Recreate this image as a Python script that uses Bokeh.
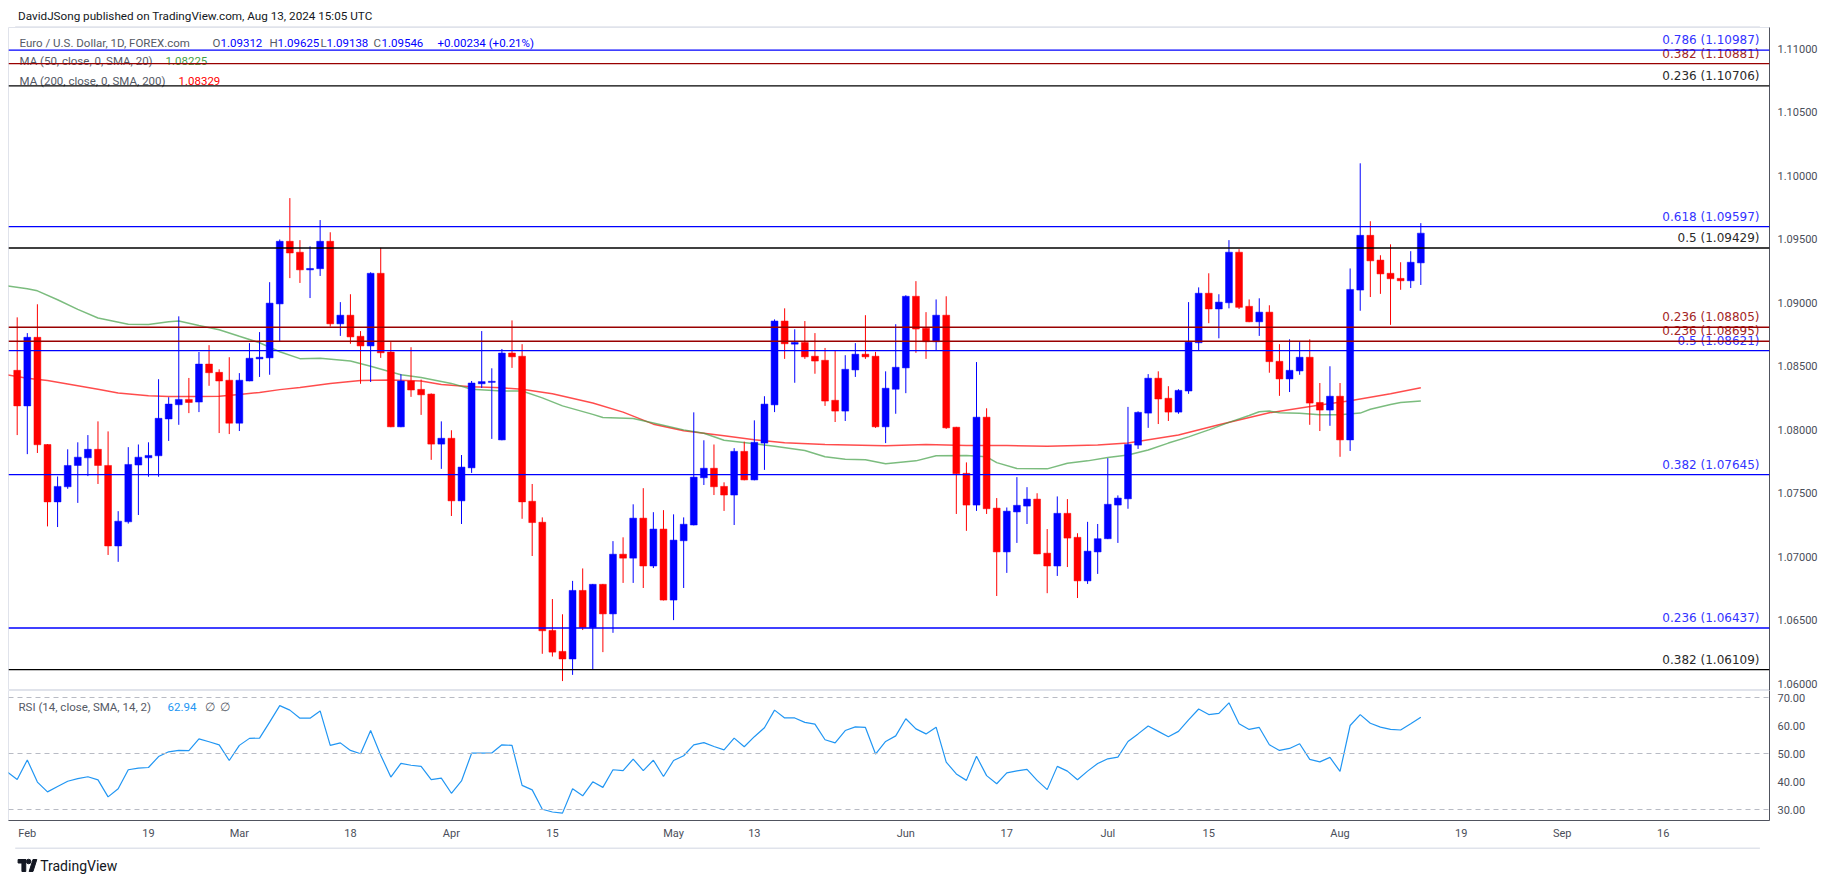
import pandas as pd
from bokeh.plotting import figure
from bokeh.models import Range1d, FixedTicker, NumeralTickFormatter, Label, Span, ColumnDataSource
from bokeh.layouts import column
from bokeh.core.properties import value
from bokeh.embed import file_html
from bokeh.resources import INLINE

# ---------------- data (EUR/USD daily) ----------------
first_bar = "2024-01-31"
opens = [1.08466, 1.08186, 1.08726, 1.07882, 1.07430, 1.07549, 1.07717, 1.07777, 1.07844, 1.07717,
         1.07083, 1.07273, 1.07720, 1.07777, 1.07793, 1.08083, 1.08195, 1.08237, 1.08216, 1.08515,
         1.08450, 1.08388, 1.08050, 1.08382, 1.08556, 1.08564, 1.08989, 1.09482, 1.09396, 1.09257,
         1.09266, 1.09482, 1.08832, 1.08900, 1.08734, 1.08658, 1.09230, 1.08610, 1.08021, 1.08382,
         1.08316, 1.08279, 1.07885, 1.07931, 1.07438, 1.07698, 1.08360, 1.08371, 1.07918, 1.08602,
         1.08577, 1.07435, 1.07270, 1.06418, 1.06253, 1.06193, 1.06733, 1.06440, 1.06781, 1.06548,
         1.07018, 1.06987, 1.07302, 1.06925, 1.07216, 1.06657, 1.07124, 1.07248, 1.07620, 1.07695,
         1.07552, 1.07484, 1.07828, 1.07603, 1.07893, 1.08194, 1.08854, 1.08672, 1.08685, 1.08577,
         1.08545, 1.08230, 1.08145, 1.08469, 1.08593, 1.08577, 1.08021, 1.08317, 1.08485, 1.09049,
         1.08797, 1.08691, 1.08900, 1.08018, 1.07655, 1.07405, 1.08097, 1.07381, 1.07036, 1.07351,
         1.07397, 1.07452, 1.07026, 1.06925, 1.07340, 1.07151, 1.06808, 1.07036, 1.07140, 1.07405,
         1.07454, 1.07877, 1.08129, 1.08404, 1.08246, 1.08137, 1.08303, 1.08683, 1.09073, 1.08949,
         1.08998, 1.09396, 1.08970, 1.08848, 1.08924, 1.08537, 1.08398, 1.08461, 1.08569, 1.08213,
         1.08153, 1.08262, 1.07918, 1.09098, 1.09529, 1.09334, 1.09230, 1.09190, 1.09171, 1.09312]
highs = [1.08883, 1.08759, 1.08986, 1.07885, 1.07630, 1.07844, 1.07899, 1.07956, 1.08064, 1.07985,
         1.07357, 1.07861, 1.07882, 1.07899, 1.08396, 1.08254, 1.08891, 1.08406, 1.08610, 1.08664,
         1.08474, 1.08569, 1.08444, 1.08680, 1.08767, 1.09160, 1.09496, 1.09822, 1.09491, 1.09442,
         1.09649, 1.09553, 1.09003, 1.09065, 1.08775, 1.09238, 1.09431, 1.08688, 1.08436, 1.08648,
         1.08393, 1.08284, 1.08064, 1.07994, 1.07799, 1.08382, 1.08775, 1.08482, 1.08634, 1.08859,
         1.08672, 1.07571, 1.07308, 1.06665, 1.06545, 1.06808, 1.06906, 1.06784, 1.06784, 1.07121,
         1.07151, 1.07411, 1.07538, 1.07349, 1.07365, 1.07332, 1.07308, 1.08135, 1.07915, 1.07882,
         1.07584, 1.07853, 1.07904, 1.08072, 1.08262, 1.08867, 1.08954, 1.08789, 1.08854, 1.08759,
         1.08642, 1.08620, 1.08585, 1.08680, 1.08900, 1.08612, 1.08458, 1.08829, 1.09057, 1.09168,
         1.08924, 1.09024, 1.09049, 1.08021, 1.07741, 1.08531, 1.08167, 1.07460, 1.07386, 1.07625,
         1.07546, 1.07498, 1.07216, 1.07473, 1.07452, 1.07183, 1.07273, 1.07256, 1.07774, 1.07481,
         1.08178, 1.08143, 1.08436, 1.08458, 1.08341, 1.08317, 1.09003, 1.09119, 1.09230, 1.09065,
         1.09491, 1.09420, 1.09024, 1.09033, 1.08978, 1.08672, 1.08710, 1.08688, 1.08710, 1.08366,
         1.08498, 1.08366, 1.09268, 1.10096, 1.09640, 1.09372, 1.09458, 1.09317, 1.09404, 1.09625]
lows = [1.07956, 1.07806, 1.07815, 1.07237, 1.07232, 1.07533, 1.07422, 1.07633, 1.07571, 1.07012,
        1.06958, 1.07259, 1.07327, 1.07628, 1.07628, 1.07910, 1.08037, 1.08129, 1.08137, 1.08344,
        1.07972, 1.07964, 1.07988, 1.08380, 1.08414, 1.08431, 1.08694, 1.09192, 1.09154, 1.09035,
        1.09209, 1.08810, 1.08737, 1.08675, 1.08360, 1.08374, 1.08564, 1.08018, 1.08018, 1.08257,
        1.08115, 1.07761, 1.07690, 1.07319, 1.07256, 1.07658, 1.08327, 1.07926, 1.07915, 1.08485,
        1.07297, 1.07004, 1.06234, 1.06212, 1.06019, 1.06068, 1.06421, 1.06112, 1.06247, 1.06399,
        1.06792, 1.06792, 1.06752, 1.06909, 1.06654, 1.06499, 1.06752, 1.07245, 1.07563, 1.07484,
        1.07359, 1.07248, 1.07600, 1.07600, 1.07682, 1.08137, 1.08556, 1.08368, 1.08556, 1.08439,
        1.08186, 1.08059, 1.08067, 1.08414, 1.08556, 1.08013, 1.07893, 1.08124, 1.08286, 1.08604,
        1.08556, 1.08620, 1.08005, 1.07335, 1.07202, 1.07359, 1.07335, 1.06689, 1.06871, 1.07107,
        1.07256, 1.07018, 1.06711, 1.06847, 1.06917, 1.06673, 1.06784, 1.06863, 1.07137, 1.07107,
        1.07376, 1.07847, 1.08013, 1.08043, 1.08067, 1.08124, 1.08281, 1.08620, 1.08837, 1.08718,
        1.08954, 1.08949, 1.08845, 1.08737, 1.08447, 1.08265, 1.08295, 1.08431, 1.08037, 1.07988,
        1.08029, 1.07785, 1.07831, 1.08935, 1.09043, 1.09068, 1.08824, 1.09100, 1.09114, 1.09138]
closes = [1.08186, 1.08726, 1.07880, 1.07430, 1.07552, 1.07717, 1.07782, 1.07844, 1.07717, 1.07083,
          1.07278, 1.07725, 1.07782, 1.07796, 1.08088, 1.08200, 1.08237, 1.08213, 1.08515, 1.08447,
          1.08382, 1.08050, 1.08388, 1.08561, 1.08569, 1.08995, 1.09482, 1.09390, 1.09257, 1.09268,
          1.09482, 1.08832, 1.08900, 1.08729, 1.08658, 1.09230, 1.08604, 1.08021, 1.08382, 1.08311,
          1.08273, 1.07885, 1.07931, 1.07438, 1.07704, 1.08366, 1.08377, 1.08379, 1.08602, 1.08572,
          1.07430, 1.07267, 1.06415, 1.06247, 1.06193, 1.06733, 1.06440, 1.06781, 1.06548, 1.07018,
          1.06987, 1.07302, 1.06925, 1.07216, 1.06657, 1.07129, 1.07254, 1.07625, 1.07695, 1.07549,
          1.07484, 1.07828, 1.07603, 1.07899, 1.08200, 1.08854, 1.08675, 1.08685, 1.08572, 1.08539,
          1.08224, 1.08145, 1.08474, 1.08593, 1.08572, 1.08021, 1.08325, 1.08490, 1.09049, 1.08791,
          1.08691, 1.08900, 1.08013, 1.07652, 1.07405, 1.08097, 1.07376, 1.07036, 1.07357, 1.07403,
          1.07452, 1.07020, 1.06925, 1.07340, 1.07145, 1.06808, 1.07042, 1.07140, 1.07411, 1.07460,
          1.07882, 1.08135, 1.08404, 1.08240, 1.08137, 1.08308, 1.08688, 1.09073, 1.08949, 1.09003,
          1.09396, 1.08962, 1.08848, 1.08924, 1.08534, 1.08398, 1.08466, 1.08569, 1.08208, 1.08153,
          1.08262, 1.07918, 1.09103, 1.09529, 1.09328, 1.09225, 1.09187, 1.09171, 1.09317, 1.09546]
last_change, last_change_pct = 0.00234, 0.21

# RSI(14) - first value belongs to 2024-01-30
rsi_first = "2024-01-30"
rsi = [43.5, 40.7, 47.7, 39.8, 36.3, 38.2, 40.1, 41.0, 41.7, 40.6, 34.5, 37.4, 44.2, 44.8, 45.0,
       48.9, 50.6, 51.1, 51.0, 55.2, 54.2, 53.1, 47.5, 52.9, 55.4, 55.5, 61.2, 67.1, 65.5, 62.6,
       62.6, 65.2, 52.9, 53.8, 51.1, 49.9, 58.2, 49.4, 41.6, 46.5, 45.8, 45.4, 40.7, 41.2, 35.8,
       40.2, 50.1, 50.1, 50.2, 53.1, 52.9, 38.6, 37.0, 30.1, 29.1, 28.7, 37.4, 34.9, 39.9, 37.9,
       44.2, 43.9, 48.0, 43.9, 47.6, 41.8, 47.5, 49.2, 53.1, 53.9, 52.5, 51.3, 55.5, 52.4, 56.0,
       59.2, 65.5, 62.7, 62.7, 61.1, 60.5, 54.9, 53.8, 58.2, 59.5, 59.3, 49.8, 54.3, 56.3, 62.4,
       58.8, 57.0, 59.4, 46.9, 42.7, 40.4, 49.0, 42.1, 39.2, 43.1, 43.8, 44.3, 40.4, 37.1, 45.4,
       43.7, 40.6, 43.7, 46.4, 48.1, 48.7, 54.3, 57.0, 59.8, 57.9, 56.0, 57.9, 62.0, 65.9, 63.9,
       64.3, 68.1, 60.6, 58.6, 59.3, 53.1, 51.1, 51.8, 53.5, 47.9, 47.0, 48.6, 43.6, 60.0, 63.9,
       60.8, 59.4, 58.6, 58.4, 60.6, 62.94]

# Moving averages, sampled along the chart (bar number counted from first_bar)
ma50_bar = [-1, 1, 2, 4, 6, 8, 11, 13, 15, 16, 18, 20, 22, 24, 26, 28, 30, 33, 35, 38, 40, 43, 45,
            48, 50, 52, 54, 57, 58, 61, 63, 66, 68, 70, 73, 75, 78, 80, 82, 84, 86, 89, 91, 94, 96,
            97, 99, 102, 104, 106, 108, 110, 112, 114, 116, 118, 120, 122, 123, 124, 125, 127, 129,
            131, 133, 134, 136, 137, 139]
ma50 = [1.09130, 1.09108, 1.09092, 1.09022, 1.08946, 1.08878, 1.08829, 1.08826, 1.08848, 1.08854,
        1.08819, 1.08786, 1.08734, 1.08683, 1.08612, 1.08558, 1.08561, 1.08539, 1.08498, 1.08431,
        1.08409, 1.08363, 1.08317, 1.08303, 1.08303, 1.08249, 1.08186, 1.08119, 1.08094, 1.08086,
        1.08051, 1.07997, 1.07970, 1.07915, 1.07888, 1.07869, 1.07834, 1.07785, 1.07766, 1.07761,
        1.07731, 1.07753, 1.07793, 1.07796, 1.07785, 1.07739, 1.07693, 1.07690, 1.07734, 1.07753,
        1.07780, 1.07799, 1.07839, 1.07893, 1.07942, 1.07997, 1.08056, 1.08110, 1.08140, 1.08145,
        1.08132, 1.08127, 1.08116, 1.08116, 1.08129, 1.08159, 1.08197, 1.08212, 1.08225]
ma200_bar = [-1, 1, 3, 5, 8, 10, 13, 15, 18, 20, 22, 24, 26, 28, 31, 34, 37, 40, 42, 45, 48, 50, 53,
             57, 60, 63, 66, 70, 73, 76, 80, 86, 90, 94, 98, 102, 107, 110, 115, 119, 124, 129, 132,
             136, 139]
ma200 = [1.08430, 1.08404, 1.08385, 1.08358, 1.08317, 1.08287, 1.08265, 1.08260, 1.08260, 1.08262,
         1.08276, 1.08292, 1.08314, 1.08330, 1.08363, 1.08385, 1.08390, 1.08382, 1.08355, 1.08336,
         1.08328, 1.08317, 1.08281, 1.08208, 1.08137, 1.08042, 1.07991, 1.07950, 1.07920, 1.07896,
         1.07882, 1.07872, 1.07882, 1.07874, 1.07874, 1.07869, 1.07877, 1.07893, 1.07956, 1.08037,
         1.08132, 1.08192, 1.08227, 1.08281, 1.08329]

# Fibonacci retracement levels
fib_ratio = ["0.786", "0.382", "0.236", "0.618", "0.5", "0.236", "0.236", "0.5", "0.382", "0.236", "0.382"]
fib_level = [1.10987, 1.10881, 1.10706, 1.09597, 1.09429, 1.08805, 1.08695, 1.08621, 1.07645, 1.06437, 1.06109]
fib_kind = ["blue", "red", "black", "blue", "black", "red", "red", "blue", "blue", "blue", "black"]

tick_dates = ["2024-02-01", "2024-02-19", "2024-03-01", "2024-03-18", "2024-04-01", "2024-04-15",
              "2024-05-01", "2024-05-13", "2024-06-03", "2024-06-17", "2024-07-01", "2024-07-15",
              "2024-08-01", "2024-08-19", "2024-09-02", "2024-09-16"]
tick_labels = ["Feb", "19", "Mar", "18", "Apr", "15", "May", "13", "Jun", "17", "Jul", "15",
               "Aug", "19", "Sep", "16"]
price_ticks = [1.06, 1.065, 1.07, 1.075, 1.08, 1.085, 1.09, 1.095, 1.10, 1.105, 1.11]
rsi_ticks = [30, 40, 50, 60, 70]
rsi_bands = [70, 50, 30]

header = "DavidJSong published on TradingView.com, Aug 13, 2024 15:05 UTC"
symbol = "Euro / U.S. Dollar, 1D, FOREX.com"
ma50_name, ma200_name = "MA (50, close, 0, SMA, 20)", "MA (200, close, 0, SMA, 200)"
rsi_name = "RSI (14, close, SMA, 14, 2)"

# ---------------- layout constants (page pixels) ----------------
W, H_HEAD, H_PRICE, H_RSI, H_FOOT = 1835, 27, 663, 157, 36
FRAME_L, FRAME_R = 8, 1769
BAR0_PX, BAR_PX = 16.7, 10.098          # page x of first bar, pixels per bar
PRICE_TOP = H_HEAD                       # page y of price frame top
def xi(px):
    return (px - BAR0_PX) / BAR_PX
def price_at(py):
    return 1.11 - (py - 48) / 12700.0
def rsi_at(py):
    return 70 - (py - 697) / 2.8

UP, DOWN = "#0000FF", "#FF0000"
FIB_COL = {"blue": "#0000FF", "red": "#990000", "black": "#000000"}
FIB_TXT = {"blue": "#3333FF", "red": "#A32626", "black": "#2A2A2A"}
AX_TXT = "#4A4E59"
FONT = value("Roboto")
LEG_SIZE = "11.5px"

cal = pd.bdate_range("2024-01-30", "2024-12-31")
pos = {d.strftime("%Y-%m-%d"): k - 1 for k, d in enumerate(cal)}   # first_bar -> 0

XR = Range1d(xi(FRAME_L), xi(FRAME_R))

# ---------------- header ----------------
hd = figure(width=W, height=H_HEAD, x_range=Range1d(0, W), y_range=Range1d(H_HEAD, 0),
            output_backend="svg", toolbar_location=None, x_axis_location=None, y_axis_location=None,
            min_border=0, outline_line_color=None)
hd.grid.visible = False
hd.text(x=[10], y=[15], text=[header], text_font=FONT, text_font_size="11.7px",
        text_color="#131722", text_baseline="middle")
hd.segment(x0=[7], y0=[26.5], x1=[1825], y1=[26.5], line_color="#E0E3EB", line_width=1.5)

# ---------------- price pane ----------------
p = figure(width=W, height=H_PRICE, x_range=XR, y_range=Range1d(price_at(PRICE_TOP + H_PRICE), price_at(PRICE_TOP)),
           output_backend="svg", toolbar_location=None, x_axis_location=None, y_axis_location="right",
           min_border_left=FRAME_L, min_border_right=W - FRAME_R, min_border_top=0, min_border_bottom=0)
p.grid.visible = False
p.outline_line_color = "#E0E3EB"
p.yaxis.ticker = FixedTicker(ticks=price_ticks)
p.yaxis.formatter = NumeralTickFormatter(format="0.00000")
p.yaxis.major_tick_line_color = None
p.yaxis.minor_tick_line_color = None
p.yaxis.major_tick_out = 0
p.yaxis.major_tick_in = 0
p.yaxis.minor_tick_out = 0
p.yaxis.axis_line_color = "#50535E"
p.yaxis.major_label_text_font_size = "11px"
p.yaxis.major_label_text_font = "Roboto"
p.yaxis.major_label_text_color = AX_TXT
p.yaxis.major_label_standoff = 8

for lvl, kind in zip(fib_level, fib_kind):
    p.add_layout(Span(location=lvl, dimension="width", line_color=FIB_COL[kind], line_width=1.3))

# moving averages
p.line(x=ma200_bar, y=ma200, line_color="#FF0000", line_alpha=0.7, line_width=1.5)
p.line(x=ma50_bar, y=ma50, line_color="#43A047", line_alpha=0.7, line_width=1.5)

n = len(opens)
bars = list(range(n))
cols = [UP if c >= o else DOWN for o, c in zip(opens, closes)]
min_h = 1.1 / 12700.0
tops = [max(o, c) for o, c in zip(opens, closes)]
bots = [min(o, c) for o, c in zip(opens, closes)]
tops = [t if t - b >= min_h else b + min_h for t, b in zip(tops, bots)]
src = ColumnDataSource(dict(x=bars, h=highs, l=lows, top=tops, bot=bots, c=cols))
p.segment(x0="x", y0="h", x1="x", y1="l", line_color="c", line_width=1, source=src)
p.vbar(x="x", top="top", bottom="bot", width=0.68, fill_color="c", line_color="c", line_width=0.5, source=src)

# fib labels
lab_x = xi(FRAME_R - 10)
p.text(x=[lab_x] * len(fib_level), y=fib_level,
       text=[f"{r} ({l:.5f})" for r, l in zip(fib_ratio, fib_level)],
       text_color=[FIB_TXT[k] for k in fib_kind], text_align="right", text_baseline="bottom",
       y_offset=-3, text_font=value("DejaVu Sans"), text_font_size="12px")

# legend rows
def ptxt(px, py, s, color):
    p.text(x=[xi(px)], y=[price_at(py)], text=[s], text_color=color, text_baseline="middle",
           text_font=FONT, text_font_size=LEG_SIZE)

LG = "#555A66"
ptxt(19, 42, symbol, LG)
ohlc_lab = ["O", "H", "L", "C"]
ohlc_val = [opens[-1], highs[-1], lows[-1], closes[-1]]
ohlc_px = [212, 269, 320, 373]
ohlc_vx = [220, 277, 326, 381]
for lab, v, px, vx in zip(ohlc_lab, ohlc_val, ohlc_px, ohlc_vx):
    ptxt(px, 42, lab, LG)
    ptxt(vx, 42, f"{v:.5f}", UP)
ptxt(437, 42, f"+{last_change:.5f} (+{last_change_pct:.2f}%)", UP)
ptxt(19, 60, ma50_name, LG)
ptxt(165, 60, f"{ma50[-1]:.5f}", "#43A047")
ptxt(19, 80, ma200_name, LG)
ptxt(178, 80, f"{ma200[-1]:.5f}", "#FF0000")

p.add_layout(Label(x=FRAME_R - FRAME_L + 1, x_units="screen", y=closes[-1], y_units="data",
                   text=f"{closes[-1]:.5f}", text_color="white", text_font_size="11px",
                   text_font="Roboto", text_font_style="bold", text_baseline="middle",
                   background_fill_color="#0000FF", padding=3))

# ---------------- RSI pane ----------------
RSI_TOP = PRICE_TOP + H_PRICE
r = figure(width=W, height=H_RSI, x_range=XR, y_range=Range1d(rsi_at(RSI_TOP + 130), rsi_at(RSI_TOP)),
           output_backend="svg", toolbar_location=None, y_axis_location="right",
           min_border_left=FRAME_L, min_border_right=W - FRAME_R, min_border_top=0, min_border_bottom=27)
r.grid.visible = False
r.outline_line_color = "#E0E3EB"
for b in rsi_bands:
    r.add_layout(Span(location=b, dimension="width", line_color="#B8BBC4", line_width=1, line_dash="5 4"))
r.line(x=list(range(-1, len(rsi) - 1)), y=rsi, line_color="#2196F3", line_width=1.2)

r.yaxis.ticker = FixedTicker(ticks=rsi_ticks)
r.yaxis.formatter = NumeralTickFormatter(format="0.00")
r.xaxis.ticker = FixedTicker(ticks=[pos[d] for d in tick_dates])
r.xaxis.major_label_overrides = {pos[d]: t for d, t in zip(tick_dates, tick_labels)}
for ax in (r.xaxis, r.yaxis):
    ax.major_tick_line_color = None
    ax.minor_tick_line_color = None
    ax.major_tick_out = 0
    ax.major_tick_in = 0
    ax.minor_tick_out = 0
    ax.axis_line_color = "#50535E"
    ax.major_label_text_font_size = "11px"
    ax.major_label_text_font = "Roboto"
    ax.major_label_text_color = AX_TXT
r.yaxis.major_label_standoff = 8
r.xaxis.major_label_standoff = 6

def rtxt(px, py, s, color):
    r.text(x=[xi(px)], y=[rsi_at(py)], text=[s], text_color=color, text_baseline="middle",
           text_font=FONT, text_font_size=LEG_SIZE)
rtxt(18, 706, rsi_name, LG)
rtxt(167, 706, f"{rsi[-1]:.2f}", "#2196F3")
rtxt(204, 706, "∅", LG)
rtxt(219, 706, "∅", LG)

# ---------------- footer ----------------
ft = figure(width=W, height=H_FOOT, x_range=Range1d(0, W), y_range=Range1d(H_FOOT, 0),
            output_backend="svg", toolbar_location=None, x_axis_location=None, y_axis_location=None,
            min_border=0, outline_line_color=None)
ft.grid.visible = False
ft.segment(x0=[7], y0=[0.5], x1=[1825], y1=[0.5], line_color="#E0E3EB", line_width=2)
ft.quad(left=[10], right=[18], top=[12], bottom=[15.5], color="#131722")
ft.quad(left=[14], right=[18], top=[12], bottom=[24], color="#131722")
ft.scatter(x=[21], y=[14], size=4.5, color="#131722")
ft.patch(x=[21.5, 25.5, 29.5, 25.5], y=[24, 12, 12, 24], color="#131722")
ft.text(x=[33], y=[18.5], text=["TradingView"], text_font=FONT, text_font_size="14px",
        text_color="#131722", text_baseline="middle")

page = column(hd, p, r, ft, spacing=0)
open("out.html", "w").write(file_html(page, INLINE))
